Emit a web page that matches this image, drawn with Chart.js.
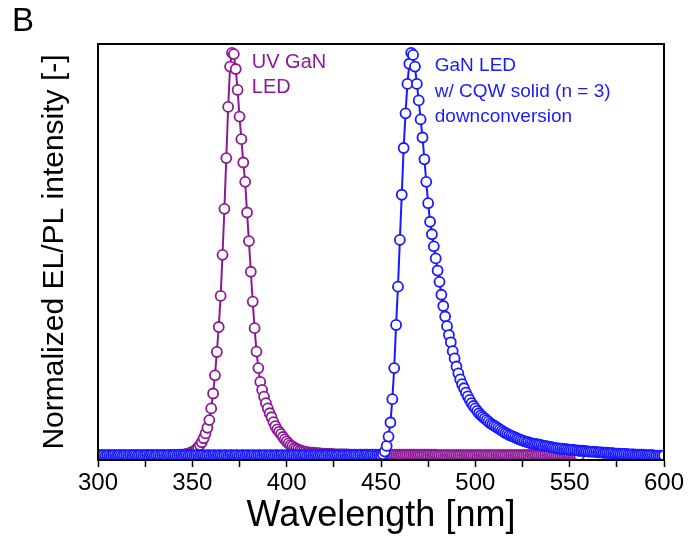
<!DOCTYPE html>
<html>
<head>
<meta charset="utf-8">
<script src="https://cdn.jsdelivr.net/npm/chart.js@4.4.1/dist/chart.umd.min.js"></script>
<style>
  body { margin: 0; background: #fff; }
  canvas { display: block; }
</style>
</head>
<body>
<canvas id="spectra" width="688" height="541"></canvas>
<script>
// wavelength grid of both spectra (nm)
const wavelength = [
  300,301,302,303,304,305,306,307,308,309,
  310,311,312,313,314,315,316,317,318,319,
  320,321,322,323,324,325,326,327,328,329,
  330,331,332,333,334,335,336,337,338,339,
  340,341,342,343,344,345,346,347,348,349,
  350,351,352,353,354,355,356,357,358,359,
  360,361,362,363,364,365,366,367,368,369,
  370,371,372,373,374,375,376,377,378,379,
  380,381,382,383,384,385,386,387,388,389,
  390,391,392,393,394,395,396,397,398,399,
  400,401,402,403,404,405,406,407,408,409,
  410,411,412,413,414,415,416,417,418,419,
  420,421,422,423,424,425,426,427,428,429,
  430,431,432,433,434,435,436,437,438,439,
  440,441,442,443,444,445,446,447,448,449,
  450,451,452,453,454,455,456,457,458,459,
  460,461,462,463,464,465,466,467,468,469,
  470,471,472,473,474,475,476,477,478,479,
  480,481,482,483,484,485,486,487,488,489,
  490,491,492,493,494,495,496,497,498,499,
  500,501,502,503,504,505,506,507,508,509,
  510,511,512,513,514,515,516,517,518,519,
  520,521,522,523,524,525,526,527,528,529,
  530,531,532,533,534,535,536,537,538,539,
  540,541,542,543,544,545,546,547,548,549,
  550,551,552,553,554,555,556,557,558,559,
  560,561,562,563,564,565,566,567,568,569,
  570,571,572,573,574,575,576,577,578,579,
  580,581,582,583,584,585,586,587,588,589,
  590,591,592,593,594,595,596,597,598,599,
  600
];

// UV GaN LED electroluminescence (normalized)
const uvLed = [
  0.001,0.002,0.001,0.001,0.002,0.001,0.002,0.001,0.001,0.002,
  0.001,0.001,0.002,0.001,0.002,0.001,0.001,0.002,0.001,0.002,
  0.001,0.002,0.001,0.001,0.002,0.001,0.002,0.002,0.001,0.002,
  0.001,0.002,0.002,0.001,0.002,0.002,0.001,0.002,0.002,0.002,
  0.002,0.002,0.002,0.003,0.003,0.003,0.004,0.005,0.006,0.008,
  0.010,0.012,0.016,0.021,0.027,0.034,0.044,0.056,0.070,0.089,
  0.118,0.155,0.200,0.258,0.320,0.397,0.499,0.613,0.739,0.866,
  0.966,1.000,0.997,0.960,0.908,0.842,0.786,0.728,0.680,0.604,
  0.533,0.457,0.383,0.317,0.259,0.218,0.184,0.164,0.147,0.131,
  0.118,0.106,0.096,0.084,0.074,0.066,0.060,0.054,0.047,0.041,
  0.036,0.031,0.027,0.024,0.020,0.018,0.016,0.014,0.013,0.011,
  0.010,0.009,0.009,0.008,0.008,0.007,0.007,0.007,0.006,0.006,
  0.006,0.005,0.005,0.005,0.005,0.004,0.004,0.004,0.004,0.004,
  0.004,0.004,0.004,0.003,0.003,0.003,0.003,0.003,0.003,0.003,
  0.003,0.003,0.003,0.003,0.003,0.003,0.003,0.003,0.003,0.003,
  0.003,0.003,0.003,0.003,0.003,0.003,0.003,0.003,0.003,0.003,
  0.003,0.003,0.003,0.003,0.003,0.003,0.003,0.003,0.003,0.003,
  0.003,0.003,0.003,0.003,0.003,0.003,0.003,0.003,0.003,0.003,
  0.002,0.002,0.002,0.002,0.002,0.002,0.002,0.002,0.002,0.002,
  0.002,0.002,0.002,0.002,0.002,0.002,0.002,0.002,0.002,0.002,
  0.002,0.002,0.002,0.002,0.002,0.002,0.002,0.002,0.002,0.002,
  0.002,0.002,0.002,0.002,0.002,0.002,0.002,0.002,0.002,0.002,
  0.002,0.002,0.002,0.002,0.002,0.002,0.002,0.002,0.002,0.002,
  0.002,0.002,0.002,0.002,0.002,0.002,0.002,0.002,0.002,0.002,
  0.002,0.002,0.002,0.002,0.002,0.002,0.002,0.002,0.002,0.002,
  0.002,0.002,0.002,0.002,0.002,0.002,null,null,null,null,
  null,null,null,null,null,null,null,null,null,null,
  null,null,null,null,null,null,null,null,null,null,
  null,null,null,null,null,null,null,null,null,null,
  null,null,null,null,null,null,null,null,null,null,
  null
];

// GaN LED with CQW solid (n = 3) downconversion (normalized)
const cqwLed = [
  0.002,0.001,0.002,0.002,0.001,0.002,0.002,0.001,0.002,0.002,
  0.001,0.002,0.002,0.001,0.002,0.002,0.001,0.002,0.001,0.002,
  0.002,0.001,0.002,0.002,0.001,0.002,0.002,0.001,0.002,0.002,
  0.001,0.002,0.002,0.001,0.002,0.002,0.001,0.002,0.002,0.001,
  0.002,0.002,0.001,0.002,0.002,0.001,0.002,0.002,0.001,0.002,
  0.002,0.001,0.002,0.002,0.001,0.002,0.002,0.001,0.002,0.002,
  0.001,0.002,0.002,0.001,0.002,0.002,0.001,0.002,0.002,0.001,
  0.002,0.002,0.001,0.002,0.002,0.001,0.002,0.002,0.001,0.002,
  0.002,0.001,0.002,0.002,0.001,0.002,0.002,0.001,0.002,0.002,
  0.001,0.002,0.002,0.001,0.002,0.002,0.001,0.002,0.002,0.001,
  0.002,0.002,0.001,0.002,0.002,0.001,0.002,0.002,0.001,0.002,
  0.002,0.001,0.002,0.002,0.001,0.002,0.002,0.001,0.002,0.002,
  0.001,0.002,0.002,0.001,0.002,0.002,0.001,0.002,0.002,0.001,
  0.002,0.002,0.001,0.002,0.002,0.001,0.002,0.002,0.001,0.002,
  0.002,0.001,0.002,0.002,0.001,0.002,0.002,0.001,0.002,0.002,
  0.002,0.004,0.011,0.025,0.048,0.083,0.141,0.218,0.325,0.420,
  0.536,0.648,0.764,0.850,0.923,0.973,1.000,0.995,0.966,0.923,
  0.882,0.835,0.790,0.736,0.680,0.627,0.581,0.550,0.520,0.490,
  0.460,0.432,0.400,0.372,0.346,0.322,0.300,0.282,0.260,0.242,
  0.222,0.205,0.190,0.178,0.168,0.157,0.148,0.139,0.131,0.124,
  0.118,0.112,0.106,0.101,0.097,0.093,0.089,0.085,0.081,0.078,
  0.075,0.072,0.069,0.066,0.063,0.060,0.057,0.055,0.052,0.050,
  0.048,0.046,0.044,0.042,0.040,0.038,0.037,0.035,0.034,0.032,
  0.031,0.030,0.030,0.029,0.028,0.027,0.025,0.025,0.024,0.023,
  0.022,0.021,0.020,0.019,0.019,0.018,0.018,0.017,0.017,0.016,
  0.015,0.015,0.015,0.014,0.014,0.013,0.013,0.013,0.012,0.012,
  0.011,0.011,0.011,0.010,0.010,0.009,0.009,0.009,0.008,0.008,
  0.008,0.007,0.007,0.007,0.006,0.006,0.006,0.005,0.005,0.005,
  0.005,0.004,0.004,0.004,0.004,0.003,0.003,0.003,0.003,0.003,
  0.002,0.002,0.002,0.002,0.002,0.001,0.001,0.001,0.001,0.001,
  0.001
];

const xTicks = [300, 350, 400, 450, 500, 550, 600];

const purple = '#8c1a96';
const blue = '#1a1aff';
const fontFamily = '"Liberation Sans", Arial, sans-serif';

// text labels next to the peaks, anchored in data coordinates
const notes = [
  { lines: ['UV GaN', 'LED'], x: 381.5, y: 0.977, size: 20, color: purple },
  { lines: ['GaN LED', 'w/ CQW solid (n = 3)', 'downconversion'], x: 478.5, y: 0.967, size: 19, color: blue }
];

const framePlugin = {
  id: 'frame',
  afterDatasetsDraw(chart) {
    const { ctx, chartArea: a, scales } = chart;
    ctx.save();
    ctx.strokeStyle = '#000';
    ctx.lineWidth = 2;
    ctx.strokeRect(a.left, a.top, a.right - a.left, a.bottom - a.top);

    ctx.textBaseline = 'middle';
    ctx.textAlign = 'left';
    notes.forEach(n => {
      const px = scales.x.getPixelForValue(n.x);
      const py = scales.y.getPixelForValue(n.y);
      ctx.font = n.size + 'px ' + fontFamily;
      ctx.fillStyle = n.color;
      n.lines.forEach((t, i) => ctx.fillText(t, px, py + i * 25.5));
    });

    // panel letter
    ctx.fillStyle = '#000';
    ctx.font = '33px ' + fontFamily;
    ctx.fillText('B', 12, 22);
    ctx.restore();
  }
};

const points = wavelength.map((w, i) => ({ x: w, y: cqwLed[i] }));
const uvPoints = wavelength.map((w, i) => ({ x: w, y: uvLed[i] }));

new Chart(document.getElementById('spectra'), {
  type: 'line',
  data: {
    datasets: [
      {
        label: 'GaN LED w/ CQW solid (n = 3) downconversion',
        data: points,
        borderColor: blue,
        borderWidth: 2,
        pointRadius: 5,
        pointBorderWidth: 1.8,
        pointBackgroundColor: '#fff',
        pointBorderColor: blue,
        tension: 0
      },
      {
        label: 'UV GaN LED',
        data: uvPoints,
        borderColor: purple,
        borderWidth: 2,
        pointRadius: 5,
        pointBorderWidth: 1.8,
        pointBackgroundColor: '#fff',
        pointBorderColor: purple,
        tension: 0,
        spanGaps: false
      }
    ]
  },
  options: {
    responsive: false,
    animation: false,
    layout: { padding: { top: 44, right: 24, left: 0, bottom: 0 } },
    plugins: {
      legend: { display: false },
      tooltip: { enabled: false }
    },
    scales: {
      x: {
        type: 'linear',
        min: 300,
        max: 600,
        afterBuildTicks: s => {
          // majors every 50 with an unlabelled minor tick in between
          const t = [];
          xTicks.forEach((v, i) => {
            t.push({ value: v });
            if (i < xTicks.length - 1) t.push({ value: v + 25 });
          });
          s.ticks = t;
        },
        afterFit: s => { s.height = 81; },
        ticks: {
          color: '#000',
          font: { family: fontFamily, size: 24 },
          padding: 2,
          maxRotation: 0,
          autoSkip: false,
          callback: v => (xTicks.includes(v) ? String(v) : '')
        },
        grid: {
          drawOnChartArea: false,
          drawTicks: true,
          tickLength: 7,
          tickColor: '#000',
          tickWidth: 1.5
        },
        border: { display: true, color: '#000', width: 2 },
        title: {
          display: true,
          text: 'Wavelength [nm]',
          color: '#000',
          font: { family: fontFamily, size: 36 },
          padding: { top: 0, bottom: 3 }
        }
      },
      y: {
        min: -0.01,
        max: 1.022,
        afterFit: s => { s.width = 98; },
        ticks: { display: false },
        grid: { display: false },
        border: { display: true, color: '#000', width: 2 },
        title: {
          display: true,
          text: 'Normalized EL/PL intensity [-]',
          color: '#000',
          font: { family: fontFamily, size: 30 },
          padding: { top: 37, bottom: 0 }
        }
      }
    }
  },
  plugins: [framePlugin]
});
</script>
</body>
</html>
